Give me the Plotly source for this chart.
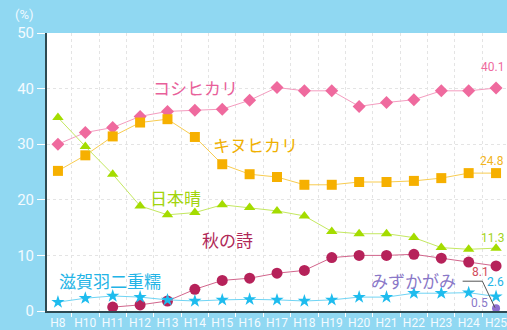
import plotly.graph_objects as go

years = ["H8", "H10", "H11", "H12", "H13", "H14", "H15", "H16", "H17",
         "H18", "H19", "H20", "H21", "H22", "H23", "H24", "H25"]
koshihikari = [30.0, 32.1, 33.0, 35.0, 35.9, 36.1, 36.3, 37.9, 40.2, 39.6, 39.6, 36.8, 37.5, 38.0, 39.6, 39.6, 40.1]
kinuhikari = [25.2, 28.0, 31.4, 33.9, 34.5, 31.3, 26.4, 24.6, 24.1, 22.7, 22.7, 23.2, 23.2, 23.4, 23.9, 24.8, 24.8]
nihonbare = [34.8, 29.6, 24.6, 18.9, 17.3, 17.7, 19.1, 18.6, 18.0, 17.1, 14.3, 13.9, 13.9, 13.2, 11.4, 11.1, 11.3]
akinouta = [None, None, 0.7, 1.1, 1.8, 3.9, 5.5, 5.9, 6.8, 7.3, 9.6, 10.0, 10.0, 10.2, 9.5, 8.8, 8.1]
shiga_mochi = [1.6, 2.3, 2.7, 2.5, 2.0, 1.8, 2.0, 2.1, 2.0, 1.8, 2.0, 2.5, 2.5, 3.2, 3.2, 3.3, 2.6]
mizukagami = [None] * 16 + [0.5]

BG = "#90d8f2"
CJK = "Noto Sans CJK JP"
NARROW = "Liberation Sans Narrow, Arial Narrow, Roboto"

series = [
    ("コシヒカリ", koshihikari, "#ef6a9e", "#f49cbf", "diamond", 10),
    ("キヌヒカリ", kinuhikari, "#f6b000", "#f8cc50", "square", 10),
    ("日本晴", nihonbare, "#a4dc00", "#c4e860", "triangle-up", 10),
    ("秋の詩", akinouta, "#b6225a", "#d2658c", "circle", 11),
    ("滋賀羽二重糯", shiga_mochi, "#1ebcee", "#6fd4f4", "star", 10),
    ("みずかがみ", mizukagami, "#8e6fd0", "#8e6fd0", "circle", 8),
]

fig = go.Figure()
for name, vals, mc, lc, sym, sz in series:
    fig.add_trace(go.Scatter(
        x=years, y=vals, mode="lines+markers", name=name,
        line=dict(color=lc, width=1),
        marker=dict(symbol=sym, size=sz, color=mc, line=dict(width=0)),
        cliponaxis=False, connectgaps=False,
    ))

ann = []
names_pos = [
    ("コシヒカリ", 5.04, 40.2, "#e8609a", 17),
    ("キヌヒカリ", 7.2, 30.0, "#f0b000", 17),
    ("日本晴", 4.3, 20.5, "#a2d40c", 17),
    ("秋の詩", 6.2, 12.9, "#b02858", 17),
    ("滋賀羽二重糯", 1.9, 5.5, "#22b4e6", 17),
    ("みずかがみ", 12.97, 5.5, "#8a78c8", 17),
]
for t, x, y, c, s in names_pos:
    ann.append(dict(x=x, y=y, xref="x", yref="y", text=t, showarrow=False,
                    font=dict(family=CJK, size=s, color=c)))

last = len(years) - 1
end_labels = [
    (koshihikari[last], "#ef6a9e", 21, 10, "right"),
    (kinuhikari[last], "#f2b420", 12, 10, "right"),
    (nihonbare[last], "#a4d41a", 10, 10, "right"),
    (akinouta[last], "#d24a5a", -6, -16, "center"),
    (shiga_mochi[last], "#22b4e6", 15, 10, "right"),
    (mizukagami[last], "#8a78c8", 5, -17, "center"),
]
for v, c, ys, xs, xa in end_labels:
    ann.append(dict(x=last, y=v, xref="x", yref="y", text=f"{v:.1f}", showarrow=False,
                    xanchor=xa, yshift=ys, xshift=xs,
                    font=dict(family=NARROW, size=12, color=c)))

ann.append(dict(x=0, y=1, xref="paper", yref="paper", text="(%)", showarrow=False,
                xanchor="right", yanchor="bottom", xshift=-11, yshift=9,
                font=dict(family="Roboto", size=13, color="#eef8ff")))

fig.update_layout(
    width=507, height=330,
    margin=dict(l=47, r=0, t=33, b=17),
    paper_bgcolor=BG, plot_bgcolor="white",
    showlegend=False,
    annotations=ann,
    shapes=[
        dict(type="line", xref="x", yref="y", x0=14.78, y0=5.36, x1=15.5, y1=5.36,
             line=dict(color="#555555", width=1)),
        dict(type="line", xref="x", yref="y", x0=15.5, y0=5.36, x1=15.96, y1=0.6,
             line=dict(color="#555555", width=1)),
    ],
    xaxis=dict(
        type="category", categoryorder="array", categoryarray=years,
        range=[-0.4, 16.4], tickson="boundaries",
        showgrid=True, gridcolor="#e4e4e4", griddash="dot", gridwidth=1,
        showline=True, linecolor="#2e4a52", linewidth=2,
        ticks="outside", ticklen=4, tickcolor="#ffffff",
        tickangle=0, ticklabelstandoff=0,
        tickfont=dict(family="Roboto", size=12, color="#f4fbff"),
        zeroline=False,
    ),
    yaxis=dict(
        range=[0, 50], dtick=10, tick0=0,
        showgrid=True, gridcolor="#e4e4e4", griddash="dot", gridwidth=1,
        showline=True, linecolor="#2e4a52", linewidth=2,
        ticks="outside", ticklen=8, tickcolor="#ffffff", tickwidth=1,
        tickfont=dict(family="Roboto", size=15, color="#f4fbff"),
        zeroline=False,
    ),
)

fig.write_html("out.html")
